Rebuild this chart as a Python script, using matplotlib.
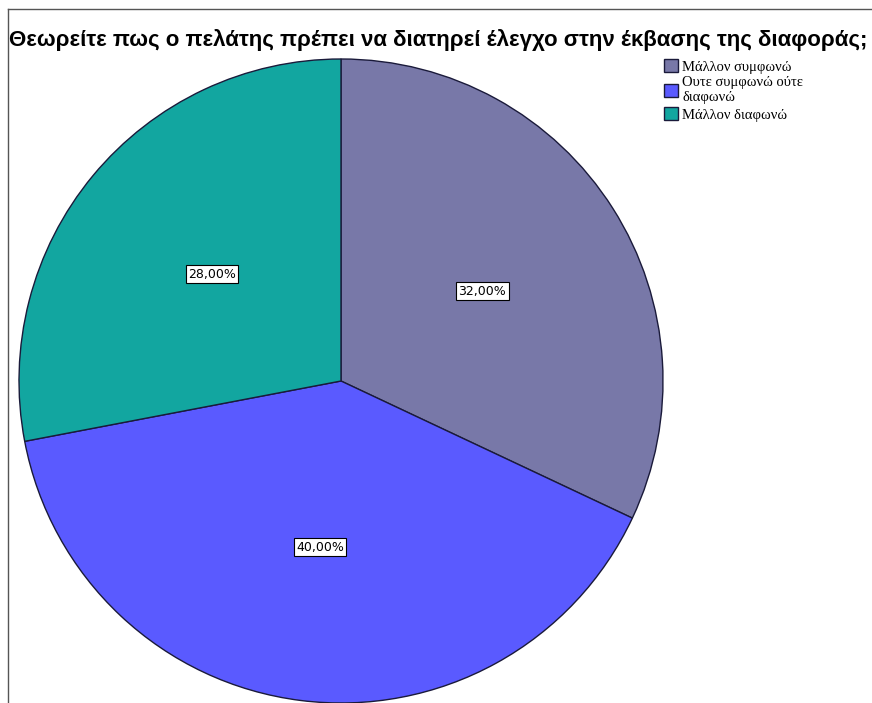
import matplotlib.pyplot as plt
from matplotlib.lines import Line2D

title = 'Θεωρείτε πως ο πελάτης πρέπει να διατηρεί έλεγχο στην έκβασης της διαφοράς;'
labels = ['Μάλλον συμφωνώ', 'Ουτε συμφωνώ ούτε\nδιαφωνώ', 'Μάλλον διαφωνώ']
values = [32.0, 40.0, 28.0]
colors = ['#7878a8', '#5a5aff', '#12a6a0']

W, H = 872, 703
fig = plt.figure(figsize=(W / 100, H / 100), dpi=100)

# pie center ~ (341, 381) px, radius ~322 px
cx, cy, r = 341, 381, 322
ax = fig.add_axes([(cx - r) / W, (H - cy - r) / H, 2 * r / W, 2 * r / H])
wedges, _, autotexts = ax.pie(
    values, colors=colors, startangle=90, counterclock=False,
    autopct=lambda p: f'{p:.2f}%'.replace('.', ','), pctdistance=0.52,
    wedgeprops=dict(edgecolor='#1a1a3a', linewidth=1.0))
for t in autotexts:
    t.set_fontsize(9)
    t.set_family('DejaVu Sans')
    t.set_bbox(dict(facecolor='white', edgecolor='black', linewidth=0.8, pad=1.8))
ax.set_xlim(-1.0, 1.0)
ax.set_ylim(-1.0, 1.0)
ax.set_aspect('equal')
ax.axis('off')

fig.text(9 / W, 1 - 40 / H, title, fontsize=16.0, family='Liberation Sans',
         weight='bold', va='center', ha='left')

leg = fig.legend(wedges, labels, loc='upper left', bbox_to_anchor=(664 / W, 1 - 59 / H),
                 frameon=False, prop={'family': 'Liberation Serif', 'size': 10.5},
                 handlelength=0.95, handleheight=1.0, handletextpad=0.3,
                 labelspacing=0.2, borderaxespad=0, borderpad=0)

# frame lines at top and left
fig.add_artist(Line2D([8 / W, 1], [1 - 9 / H, 1 - 9 / H], color='#555555', linewidth=1))
fig.add_artist(Line2D([8 / W, 8 / W], [0, 1 - 9 / H], color='#555555', linewidth=1))

fig.savefig('out.png', dpi=100)
